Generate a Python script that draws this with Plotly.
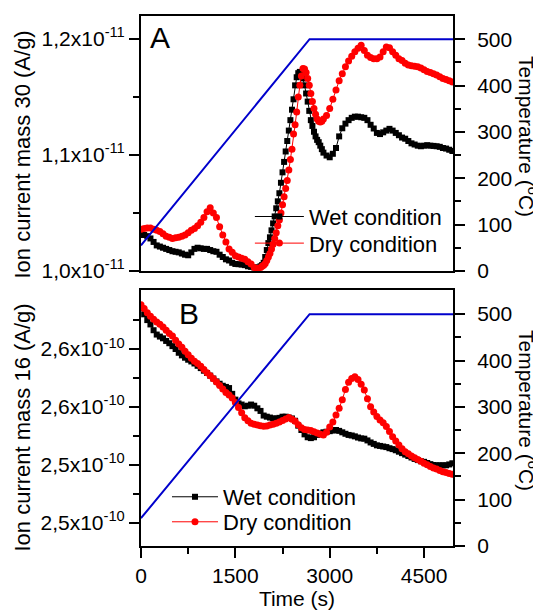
import numpy as np
import plotly.graph_objects as go

# time axis (s); panel A sampled more densely around the fast rise
time_a = np.r_[0:1901:50, 1925:2901:25, 2950:4951:50]
time_b = np.arange(0, 4951, 50)

# ion current mass 30, in units of 1e-11 A/g
mass30_wet = [
    1.031, 1.031, 1.030, 1.028, 1.025, 1.022, 1.021, 1.020, 1.019, 1.018,
    1.017, 1.0165, 1.016, 1.015, 1.014, 1.0135, 1.016, 1.019, 1.020, 1.0195,
    1.019, 1.019, 1.018, 1.017, 1.0165, 1.014, 1.012, 1.010, 1.009, 1.007,
    1.006, 1.0058, 1.0055, 1.005, 1.004, 1.0035, 1.003, 1.003, 1.004,
    1.005, 1.007, 1.012, 1.018, 1.024, 1.029, 1.035, 1.041, 1.047, 1.054,
    1.060, 1.067, 1.076, 1.085, 1.094, 1.103, 1.112, 1.121, 1.130, 1.139,
    1.148, 1.160, 1.167, 1.1705, 1.1716, 1.169, 1.166, 1.160, 1.153, 1.146,
    1.138, 1.130, 1.125, 1.120, 1.116, 1.113, 1.111, 1.108, 1.105, 1.102,
    1.0995, 1.098, 1.101, 1.106, 1.116, 1.123, 1.127, 1.130, 1.132, 1.133,
    1.133, 1.1325, 1.132, 1.130, 1.126, 1.1228, 1.119, 1.118, 1.1195, 1.121,
    1.1225, 1.121, 1.119, 1.117, 1.115, 1.114, 1.112, 1.110, 1.109, 1.108,
    1.1075, 1.108, 1.1084, 1.108, 1.1078, 1.1075, 1.107, 1.106, 1.1055, 1.1045, 1.1034,
]
mass30_dry = [
    1.036, 1.0365, 1.037, 1.037, 1.036, 1.035, 1.034, 1.032, 1.030, 1.029,
    1.028, 1.0285, 1.029, 1.030, 1.031, 1.033, 1.035, 1.0365, 1.039, 1.042,
    1.046, 1.051, 1.0545, 1.050, 1.046, 1.038, 1.031, 1.025, 1.019, 1.016,
    1.013, 1.012, 1.011, 1.010, 1.008, 1.006, 1.003, 1.002, 1.003,
    1.004, 1.005, 1.0065, 1.009, 1.012, 1.015, 1.019, 1.023, 1.028, 1.033,
    1.039, 1.044, 1.050, 1.057, 1.064, 1.071, 1.078, 1.087, 1.096, 1.105,
    1.118, 1.126, 1.137, 1.150, 1.160, 1.168, 1.1745, 1.174, 1.171, 1.166,
    1.160, 1.153, 1.146, 1.140, 1.135, 1.131, 1.129, 1.1284, 1.129, 1.131,
    1.134, 1.140, 1.148, 1.156, 1.164, 1.170, 1.176, 1.181, 1.185, 1.189,
    1.192, 1.1946, 1.190, 1.186, 1.184, 1.183, 1.183, 1.1845, 1.189, 1.193,
    1.1925, 1.189, 1.186, 1.183, 1.1815, 1.179, 1.1775, 1.177, 1.1765, 1.176,
    1.175, 1.1735, 1.172, 1.171, 1.170, 1.169, 1.1675, 1.166, 1.165, 1.164, 1.163,
]

# ion current mass 16, in units of 1e-10 A/g
mass16_wet = [
    2.5942, 2.592, 2.590, 2.5885, 2.5865, 2.585, 2.5843, 2.5837, 2.5828, 2.582,
    2.581, 2.580, 2.5787, 2.5778, 2.577, 2.5763, 2.5757, 2.575, 2.5742, 2.5734,
    2.5725, 2.5717, 2.5708, 2.5698, 2.5688, 2.568, 2.5673, 2.5669, 2.5665, 2.5645,
    2.5625, 2.5612, 2.5608, 2.5602, 2.5604, 2.5608, 2.5604, 2.5595, 2.5586, 2.557,
    2.5566, 2.5563, 2.556, 2.556, 2.5562, 2.5566, 2.5566, 2.5563, 2.556, 2.5552,
    2.5535, 2.552, 2.5505, 2.5495, 2.5492, 2.5495, 2.5503, 2.5508, 2.5512, 2.5514,
    2.5516, 2.5518, 2.552, 2.5517, 2.5512, 2.5507, 2.5503, 2.5501, 2.5498, 2.5494,
    2.5491, 2.549, 2.5484, 2.5477, 2.5472, 2.5467, 2.5465, 2.5463, 2.5461, 2.5457,
    2.5454, 2.545, 2.5445, 2.544, 2.5435, 2.543, 2.5425, 2.542, 2.5416, 2.5412,
    2.541, 2.5406, 2.5402, 2.5399, 2.5398, 2.5398, 2.5398, 2.5398, 2.5401, 2.5405,
]
mass16_dry = [
    2.5953, 2.594, 2.5925, 2.5913, 2.5903, 2.5893, 2.5886, 2.5876, 2.5865, 2.5854,
    2.5845, 2.583, 2.5817, 2.5806, 2.5792, 2.578, 2.5768, 2.5758, 2.575, 2.574,
    2.5729, 2.5718, 2.5708, 2.5697, 2.5686, 2.5674, 2.5662, 2.565, 2.5641, 2.5631,
    2.5615, 2.5598, 2.558, 2.5562, 2.5552, 2.5543, 2.554, 2.5537, 2.5535, 2.5533,
    2.5534, 2.5537, 2.554, 2.5543, 2.5548, 2.5553, 2.5558, 2.5563, 2.5557, 2.555,
    2.5538, 2.5528, 2.5522, 2.552, 2.5518, 2.5514, 2.551, 2.5505, 2.5503, 2.5512,
    2.553, 2.5548, 2.5572, 2.5595, 2.5625, 2.566, 2.5685, 2.5698, 2.5704, 2.5695,
    2.5678, 2.5658, 2.5628, 2.56, 2.5582, 2.5567, 2.5555, 2.5545, 2.5532, 2.5515,
    2.5497, 2.5482, 2.5468, 2.5455, 2.5445, 2.5438, 2.543, 2.5424, 2.5418, 2.5412,
    2.5405, 2.54, 2.5394, 2.5389, 2.5385, 2.538, 2.5376, 2.5373, 2.537, 2.5367,
]

# temperature program (C)
temp_time = [0, 2680, 4960]
temp_a = [55, 500, 500]
temp_b = [60, 500, 500]

font = "Liberation Sans, Arial, sans-serif"
blue = "#0000cc"


def series(x, y, name, color, symbol, size, xa, ya, leg):
    return go.Scatter(x=x, y=y, name=name, mode="lines+markers",
                      line=dict(color=color, width=1),
                      marker=dict(symbol=symbol, size=size, color=color),
                      xaxis=xa, yaxis=ya, legend=leg)


fig = go.Figure()

# panel A
fig.add_trace(series(time_a, np.array(mass30_wet) * 1e-11, "Wet condition", "black", "square", 6, "x2", "y", "legend"))
fig.add_trace(series(time_a, np.array(mass30_dry) * 1e-11, "Dry condition", "red", "circle", 7, "x2", "y", "legend2"))
fig.add_trace(go.Scatter(x=temp_time, y=temp_a, mode="lines", line=dict(color=blue, width=2),
                         xaxis="x2", yaxis="y2", showlegend=False))

# panel B
fig.add_trace(series(time_b, np.array(mass16_wet) * 1e-10, "Wet condition", "black", "square", 6, "x", "y3", "legend3"))
fig.add_trace(series(time_b, np.array(mass16_dry) * 1e-10, "Dry condition", "red", "circle", 7, "x", "y3", "legend4"))
fig.add_trace(go.Scatter(x=temp_time, y=temp_b, mode="lines", line=dict(color=blue, width=2),
                         xaxis="x", yaxis="y4", showlegend=False))

frame = dict(showline=True, linewidth=2, linecolor="black", mirror=True, automargin=False,
             showgrid=False, zeroline=False, ticks="outside", ticklen=10, tickwidth=2,
             tickcolor="black", tickfont=dict(size=21))
minor_style = dict(ticks="outside", ticklen=6, tickwidth=2, tickcolor="black")

dom_a = [0.519, 1]
dom_b = [0, 0.483]


def leg(x, y, width):
    return dict(x=x, y=y, xanchor="left", yanchor="middle", bgcolor="rgba(0,0,0,0)",
                font=dict(size=22), itemwidth=width)


# the page body adds an 8 px offset, so the figure is 8 px smaller than the window
fig.update_layout(
    width=533, height=607,
    margin=dict(l=133, r=88, t=8, b=69, autoexpand=False),
    paper_bgcolor="white", plot_bgcolor="white",
    font=dict(family=font, size=21, color="black"),
    xaxis=dict(frame, domain=[0, 1], anchor="y3", range=[0, 4960],
               tickvals=[0, 1500, 3000, 4500],
               minor=dict(minor_style, tickvals=[750, 2250, 3750]),
               title=dict(text="Time (s)", font=dict(size=21), standoff=2)),
    xaxis2=dict(frame, domain=[0, 1], anchor="y", matches="x", ticks="",
                showticklabels=False),
    yaxis=dict(frame, domain=dom_a, anchor="x2", range=[1.0e-11, 1.2198e-11],
               tickvals=[1.0e-11, 1.1e-11, 1.2e-11],
               ticktext=["1,0x10<sup>-11</sup>", "1,1x10<sup>-11</sup>", "1,2x10<sup>-11</sup>"],
               minor=dict(minor_style, tickvals=[1.05e-11, 1.15e-11])),
    yaxis2=dict(frame, domain=dom_a, anchor="x2", overlaying="y", side="right",
                range=[0, 550], tickvals=[0, 100, 200, 300, 400, 500], ticklabelstandoff=8,
                minor=dict(minor_style, tickvals=[50, 150, 250, 350, 450])),
    yaxis3=dict(frame, domain=dom_b, anchor="x", range=[2.5119e-10, 2.6004e-10],
                tickvals=[2.52e-10, 2.54e-10, 2.56e-10, 2.58e-10],
                ticktext=["2,5x10<sup>-10</sup>", "2,5x10<sup>-10</sup>",
                          "2,6x10<sup>-10</sup>", "2,6x10<sup>-10</sup>"],
                minor=dict(minor_style, tickvals=[2.53e-10, 2.55e-10, 2.57e-10, 2.59e-10])),
    yaxis4=dict(frame, domain=dom_b, anchor="x", overlaying="y3", side="right",
                range=[0, 552], tickvals=[0, 100, 200, 300, 400, 500], ticklabelstandoff=8,
                minor=dict(minor_style, tickvals=[50, 150, 250, 350, 450])),
    legend=leg(0.349, 0.6213, 49),
    legend2=leg(0.349, 0.5711, 49),
    legend3=leg(0.0833, 0.0925, 46),
    legend4=leg(0.0833, 0.0453, 46),
)

# axis titles as annotations so they sit where the original has them
for text, yc in (("Ion current mass 30 (A/g)", 0.7377), ("Ion current mass 16 (A/g)", 0.2226)):
    fig.add_annotation(text=text, textangle=-90, showarrow=False,
                       xref="paper", yref="paper", x=-0.3798, y=yc,
                       xanchor="center", yanchor="middle", font=dict(size=22))
for yc in (0.7736, 0.2566):
    fig.add_annotation(text="Temperature (<sup>o</sup>C)", textangle=90, showarrow=False,
                       xref="paper", yref="paper", x=1.2404, y=yc,
                       xanchor="center", yanchor="middle", font=dict(size=21))
fig.add_annotation(text="A", showarrow=False, xref="paper", yref="paper", x=0.061, y=0.960,
                   xanchor="center", yanchor="middle", font=dict(size=30))
fig.add_annotation(text="B", showarrow=False, xref="paper", yref="paper", x=0.154, y=0.4396,
                   xanchor="center", yanchor="middle", font=dict(size=30))

fig.write_html("out.html")
